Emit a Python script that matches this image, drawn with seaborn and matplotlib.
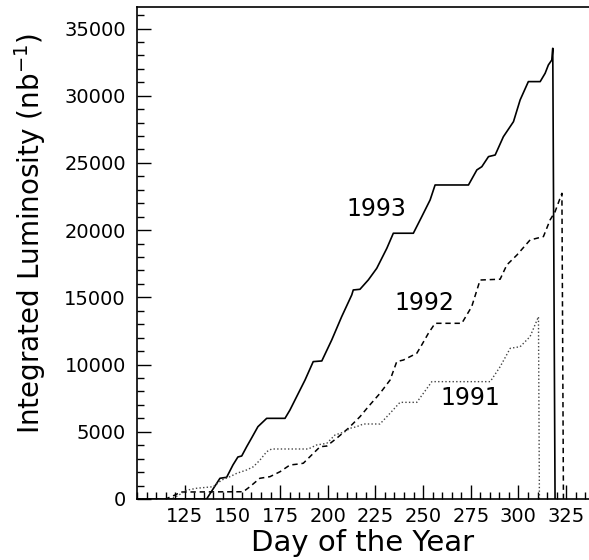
import matplotlib
matplotlib.use("Agg")
import matplotlib.pyplot as plt
from matplotlib.ticker import MultipleLocator
import pandas as pd
import seaborn as sns

# Integrated luminosity per running year (day of year, nb^-1)
days_1993 = [100, 136.5, 143.5, 147.0, 150.3, 152.9, 154.9, 157.5, 160.1, 163.4, 168.0,
             177.6, 180.2, 183.7, 188.1, 192.4, 196.9, 202.1, 207.3, 212.6, 213.4,
             216.9, 221.3, 225.7, 231.0, 234.4, 244.9, 249.3, 253.7, 256.3, 273.8,
             278.2, 280.8, 284.3, 287.8, 292.1, 297.4, 300.9, 305.2, 311.4, 314.0,
             315.7, 317.5, 318.0, 319.2]
lumi_1993 = [0, 0, 1540, 1615, 2530, 3125, 3200, 3890, 4540, 5380, 6000,
             6000, 6620, 7610, 8850, 10220, 10270, 11830, 13560, 15180, 15550,
             15600, 16300, 17160, 18650, 19770, 19770, 21000, 22250, 23360, 23360,
             24480, 24720, 25470, 25590, 26950, 28070, 29690, 31050, 31050, 31670,
             32290, 32660, 33530, 0]

days_1992 = [100, 115.0, 120.0, 123.0, 155.7, 159.2, 164.4, 169.7, 175.0, 180.2, 184.6,
             187.2, 190.7, 196.0, 199.5, 204.7, 210.8, 216.9, 221.3, 227.4, 232.7,
             236.2, 239.7, 246.7, 249.3, 252.8, 256.3, 270.3, 275.5, 279.9, 290.4,
             293.9, 299.2, 306.1, 313.1, 316.6, 319.2, 322.8, 323.6]
lumi_1992 = [0, 0, 300, 520, 540, 915, 1540, 1660, 2030, 2530, 2600,
             2660, 3150, 3890, 3940, 4520, 5260, 6120, 6870, 7860, 8850,
             10220, 10340, 10840, 11460, 12330, 13070, 13070, 14310, 16290, 16350,
             17410, 18150, 19270, 19520, 20760, 21370, 22740, 0]

days_1991 = [100, 118.0, 122.0, 126.0, 131.3, 140.0, 144.4, 148.7, 152.3, 157.5, 161.0,
             164.5, 168.0, 170.6, 189.8, 194.2, 199.5, 203.8, 209.1, 211.7, 215.2,
             218.7, 227.4, 232.7, 237.9, 246.7, 254.6, 285.2, 290.4, 295.7, 300.9,
             306.1, 310.5, 311.0]
lumi_1991 = [0, 0, 300, 650, 800, 915, 1410, 1660, 1910, 2160, 2400,
             2900, 3520, 3720, 3720, 4020, 4140, 4760, 5010, 5260, 5380,
             5580, 5580, 6380, 7190, 7190, 8730, 8730, 9840, 11210, 11330,
             12080, 13560, 0]

years = ["1993", "1992", "1991"]
label_day = [225.7, 250.5, 274.7]
label_lumi = [21580, 14580, 7550]

sns.set_style("ticks")
plt.rcParams["font.family"] = ["DejaVu Sans"]
plt.rcParams["text.color"] = "black"
plt.rcParams["axes.labelcolor"] = "black"
plt.rcParams["xtick.color"] = "black"
plt.rcParams["ytick.color"] = "black"

frames = [
    pd.DataFrame({"day": days_1993, "lumi": lumi_1993, "year": "1993"}),
    pd.DataFrame({"day": days_1992, "lumi": lumi_1992, "year": "1992"}),
    pd.DataFrame({"day": days_1991, "lumi": lumi_1991, "year": "1991"}),
]
styles = {
    "1993": dict(color="black", linestyle="-", linewidth=1.2),
    "1992": dict(color="black", linestyle=(0, (3.5, 2.5)), linewidth=1.1),
    "1991": dict(color="#444444", linestyle=(0, (1, 1.6)), linewidth=1.0),
}

fig = plt.figure(figsize=(5.89, 5.60), dpi=100)
ax = fig.add_axes([137 / 589, 61 / 560, 452 / 589, 492 / 560])

for df in frames:
    yr = df["year"].iloc[0]
    sns.lineplot(data=df, x="day", y="lumi", ax=ax, sort=False,
                 estimator=None, legend=False, **styles[yr])

for yr, dx, ly in zip(years, label_day, label_lumi):
    ax.text(dx, ly, yr, fontsize=17, ha="center", va="center", color="black")

ax.set_xlim(100, 337)
ax.set_ylim(0, 36600)
ax.set_xticks([125, 150, 175, 200, 225, 250, 275, 300, 325])
ax.xaxis.set_minor_locator(MultipleLocator(5))
ax.yaxis.set_major_locator(MultipleLocator(5000))
ax.yaxis.set_minor_locator(MultipleLocator(1000))

ax.tick_params(axis="both", which="major", direction="in", length=10, width=1,
               labelsize=14, pad=6, color="black", labelcolor="black")
ax.tick_params(axis="both", which="minor", direction="in", length=5, width=1,
               color="black")
ax.tick_params(axis="y", pad=8)

for side in ["left", "bottom", "top"]:
    ax.spines[side].set_linewidth(1.2)
    ax.spines[side].set_color("black")
ax.spines["right"].set_visible(False)

ax.set_xlabel("Day of the Year", fontsize=21, labelpad=2)
ax.set_ylabel("Integrated Luminosity (nb$^{-1}$)", fontsize=20)
ax.yaxis.set_label_coords(-0.197, 0.54)

fig.savefig("out.png", dpi=100)
